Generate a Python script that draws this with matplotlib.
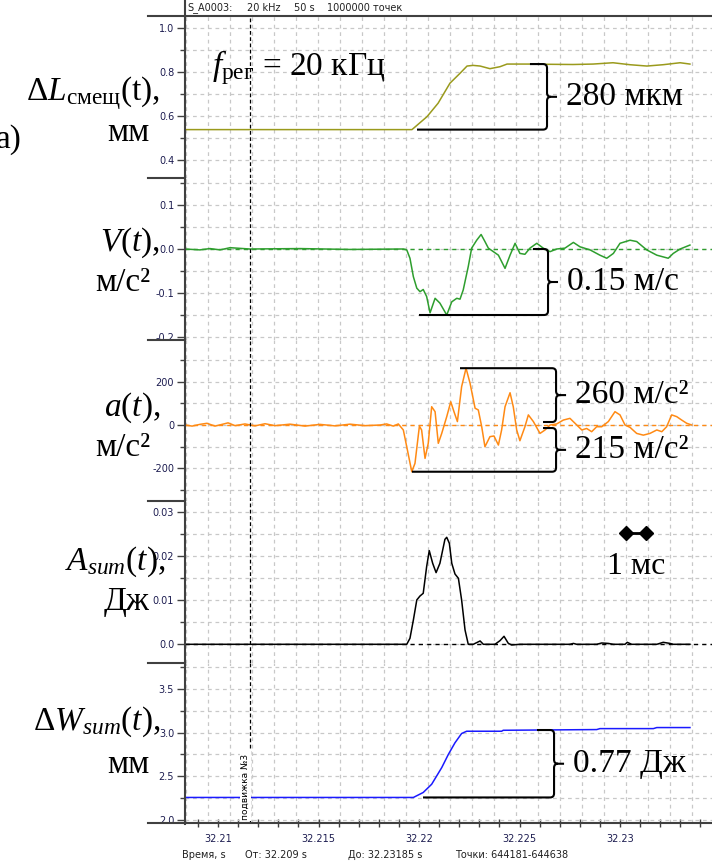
import numpy as np
import matplotlib
matplotlib.use('Agg')
from matplotlib import pyplot as plt
from matplotlib.lines import Line2D
from matplotlib.path import Path
from matplotlib.patches import PathPatch
import matplotlib.transforms as mtransforms

plt.rcParams['font.family'] = 'DejaVu Sans'
plt.rcParams['mathtext.fontset'] = 'custom'
plt.rcParams['mathtext.rm'] = 'Liberation Serif'
plt.rcParams['mathtext.it'] = 'Liberation Serif:italic'

T0 = 32.21  # s; all times below are ms after T0

# displacement dL, mm
dl_ms = [-1.64, 9.65, 10.40, 10.95, 11.54, 12.04, 12.39, 12.69, 13.04, 13.53, 14.03, 14.38,
         15.02, 15.67, 16.37, 17.66, 18.66, 19.65, 20.50, 21.34, 22.14, 22.99, 23.48]
dl_val = [0.538, 0.538, 0.597, 0.658, 0.749, 0.794, 0.827, 0.830, 0.827, 0.815, 0.824, 0.836,
          0.836, 0.836, 0.835, 0.834, 0.836, 0.842, 0.833, 0.827, 0.833, 0.842, 0.836]

# velocity V, m/s
v_ms = [-1.64, -0.90, -0.40, 0.10, 0.60, 1.59, 4.08, 6.57, 9.05, 9.22, 9.39, 9.55, 9.72, 9.89,
        10.05, 10.21, 10.38, 10.55, 10.80, 11.04, 11.38, 11.63, 11.88, 12.04, 12.20, 12.45,
        12.62, 12.87, 13.09, 13.28, 13.45, 13.70, 13.95, 14.28, 14.53, 14.78, 15.02, 15.27,
        15.52, 15.86, 16.18, 16.52, 16.85, 17.26, 17.68, 18.01, 18.51, 19.00, 19.34, 19.67,
        20.00, 20.50, 20.83, 21.33, 21.83, 22.40, 22.65, 22.99, 23.48]
v_val = [0.0, -0.002, 0.001, -0.002, 0.003, 0.0, 0.001, -0.001, 0.0, 0.0, -0.002, -0.021, -0.063,
         -0.089, -0.097, -0.092, -0.108, -0.145, -0.112, -0.123, -0.150, -0.120, -0.112, -0.114,
         -0.093, -0.040, 0.002, 0.020, 0.033, 0.017, 0.002, -0.006, -0.014, -0.044, -0.014,
         0.013, -0.010, -0.012, 0.002, 0.013, 0.002, -0.006, 0.0, 0.002, 0.015, 0.005, -0.002,
         -0.014, -0.021, -0.010, 0.013, 0.020, 0.017, -0.002, -0.014, -0.021, -0.010, 0.0, 0.009]

# acceleration a, m/s^2
a_ms = [-1.64, -1.29, -0.90, -0.55, -0.15, 0.20, 0.50, 0.85, 1.34, 1.84, 2.34, 2.84, 3.58, 4.33,
        5.07, 5.82, 6.57, 7.31, 8.06, 8.39, 8.72, 8.97, 9.22, 9.39, 9.64, 9.80, 10.02, 10.13,
        10.30, 10.46, 10.63, 10.80, 10.96, 11.13, 11.38, 11.58, 11.74, 11.91, 12.12, 12.34,
        12.54, 12.79, 12.95, 13.12, 13.28, 13.53, 13.73, 13.95, 14.11, 14.28, 14.53, 14.69,
        14.86, 15.02, 15.27, 15.44, 15.69, 16.02, 16.27, 16.52, 16.85, 17.18, 17.51, 17.85,
        18.10, 18.34, 18.59, 18.84, 19.09, 19.42, 19.75, 20.00, 20.25, 20.50, 20.83, 21.16,
        21.49, 21.83, 22.08, 22.32, 22.57, 22.82, 23.07, 23.32, 23.57]
a_val = [0, -5, 3, 8, -5, 3, 10, -3, 5, -4, 6, -3, 4, -5, 3, -4, 4, -3, 0, 5, -5, 5, -23, -101,
         -217, -178, -5, -23, -155, -85, 85, 62, -85, -39, 39, 108, 62, 16, 178, 264, 194, 78,
         70, -8, -101, -54, -51, -93, -23, 85, 150, 85, -23, -73, -8, 47, 16, -39, -23, 0, 5,
         23, 31, 0, -23, -16, -31, -8, -8, 16, 62, 47, 0, -11, -39, -47, -39, -23, -31, -8, 47,
         39, 23, 8, 0]

# cumulative acoustic energy A_sum, J
as_ms = [-1.64, 9.39, 9.55, 9.72, 9.89, 10.05, 10.21, 10.38, 10.51, 10.68, 10.85, 11.04, 11.29,
         11.38, 11.51, 11.63, 11.79, 11.96, 12.12, 12.29, 12.45, 12.70, 12.87, 13.04, 13.20,
         13.78, 14.03, 14.23, 14.44, 14.61, 15.02, 17.51, 17.68, 17.85, 18.84, 19.09, 19.42,
         19.67, 20.25, 20.36, 20.58, 21.83, 22.15, 22.49, 22.65, 23.48]
as_val = [0, 0, 0.00136, 0.00553, 0.01008, 0.01098, 0.01159, 0.01765, 0.02129, 0.01841, 0.01629,
          0.01841, 0.02386, 0.02432, 0.02295, 0.01841, 0.01598, 0.0150, 0.01008, 0.00326, 0, 0,
          0.00038, 0.00076, 0, 0, 0.00083, 0.00182, 0.00023, -0.00015, 0, 0, 0.0002, 0, 0,
          0.0003, 0.0002, 0, 0, 0.00045, 0, 0, 0.00045, 0.0002, 0, 0]

# energy dW_sum
w_ms = [-1.64, 9.72, 10.21, 10.63, 10.88, 11.13, 11.46, 11.79, 12.12, 12.37, 14.11, 14.19,
        18.84, 19.00, 21.66, 21.83, 23.48]
w_val = [2.258, 2.258, 2.315, 2.409, 2.504, 2.599, 2.750, 2.883, 2.989, 3.015, 3.015, 3.026,
         3.034, 3.045, 3.045, 3.057, 3.057]

dl_ticks, dl_labels, dl_minor = [0.4, 0.6, 0.8, 1.0], ['0.4', '0.6', '0.8', '1.0'], [0.5, 0.7, 0.9]
v_ticks, v_labels, v_minor = [-0.2, -0.1, 0.0, 0.1], ['-0.2', '-0.1', '0.0', '0.1'], [-0.15, -0.05, 0.05, 0.15]
a_ticks, a_labels, a_minor = [-200, 0, 200], ['-200', '0', '200'], [-300, -100, 100, 300]
as_ticks, as_labels, as_minor = [0.0, 0.01, 0.02, 0.03], ['0.0', '0.01', '0.02', '0.03'], [0.005, 0.015, 0.025]
w_ticks, w_labels, w_minor = [2.0, 2.5, 3.0, 3.5], ['2.0', '2.5', '3.0', '3.5'], [2.25, 2.75, 3.25, 3.75]
x_ticks = [32.21, 32.215, 32.22, 32.225, 32.23]
x_labels = ['32.21', '32.215', '32.22', '32.225', '32.23']

mark_ms = 1.59          # "подвижка №3"

W, H = 712, 861
fig = plt.figure(figsize=(W / 100, H / 100), dpi=100)


def fx(px):
    return px / W


def fy(py):
    return 1 - py / H


def sec(ms):
    return T0 + np.asarray(ms, dtype=float) / 1000.0


xlim = (sec(-1.642), sec(24.577))
bounds = [(16, 178), (178, 340), (340, 501), (501, 663), (663, 823)]
series = [
    (dl_ms, dl_val, '#9a9a1c', (0.318, 1.0545), dl_ticks, dl_labels, dl_minor, False),
    (v_ms, v_val, '#2e9e2e', (-0.2068, 0.1614), v_ticks, v_labels, v_minor, True),
    (a_ms, a_val, '#ff8a14', (-353, 395), a_ticks, a_labels, a_minor, True),
    (as_ms, as_val, '#000000', (-0.00425, 0.03257), as_ticks, as_labels, as_minor, True),
    (w_ms, w_val, '#1a1aff', (1.966, 3.795), w_ticks, w_labels, w_minor, False),
]
grid_step = 1.095  # ms, screen grid division

axes = []
for (top, bot), (tms, vals, col, ylim, maj, lab, mnr, zero) in zip(bounds, series):
    ax = fig.add_axes([fx(185), fy(bot), fx(W - 185), (bot - top) / H])
    ax.set_xlim(*xlim)
    ax.set_ylim(*ylim)
    for s in ax.spines.values():
        s.set_visible(False)
    ax.set_yticks(maj)
    ax.set_yticklabels(lab)
    ax.set_yticks(mnr, minor=True)
    ax.tick_params(axis='y', which='major', direction='out', length=5.8, width=1,
                   color='#404040', labelsize=7, labelcolor='#1c1c50', pad=2)
    ax.tick_params(axis='y', which='minor', direction='out', length=3.6, width=1, color='#404040')
    ax.grid(True, axis='y', which='both', color='#c8c8c8', linestyle=(0, (3, 3)), lw=0.9)
    for g in np.arange(-1.592, 24.6, grid_step):
        ax.axvline(sec(g), color='#c8c8c8', linestyle=(0, (3, 3)), lw=0.9, zorder=0)
    ax.set_xticks([])
    if zero:
        ax.axhline(0, color=col, linestyle=(0, (3, 3)), lw=1)
    ax.plot(sec(tms), vals, color=col, lw=1.1)
    ax.axvline(sec(mark_ms), color='black', linestyle=(0, (3, 2)), lw=0.9)
    ax.set_facecolor('none')
    axes.append(ax)

ax1, ax2, ax3, ax4, ax5 = axes
ax5.set_xticks(x_ticks)
ax5.set_xticklabels(x_labels)
ax5.set_xticks(sec(np.arange(-1, 25, 1.0)), minor=True)
ax5.tick_params(axis='x', which='both', direction='inout', length=5.8, width=1, color='#404040',
                labelsize=7, labelcolor='#1c1c50', pad=5)

# frame lines
fig.add_artist(Line2D([fx(185), fx(185)], [fy(824), 1], color='#404040', lw=1.5))
fig.add_artist(Line2D([fx(148), 1], [fy(16), fy(16)], color='#404040', lw=1.5))
fig.add_artist(Line2D([fx(148), 1], [fy(823), fy(823)], color='#404040', lw=1.5))
for py in [178, 340, 501, 663]:
    fig.add_artist(Line2D([fx(148), fx(185)], [fy(py), fy(py)], color='#404040', lw=1.5))


def brace(ax, xb, lo, hi, x_lo, x_hi, label):
    x0, x1 = ax.get_xlim()
    y0, y1 = ax.get_ylim()
    pos = ax.get_position()
    sx = (x1 - x0) / (pos.width * W)
    sy = (y1 - y0) / (pos.height * H)
    r, tip = 4, 14
    mid = (lo + hi) / 2
    verts = [(x_lo, lo), (xb, lo), (xb + r * sx, lo), (xb + r * sx, lo + r * sy),
             (xb + r * sx, mid - r * sy), (xb + r * sx, mid), (xb + 2 * r * sx, mid),
             (xb + tip * sx, mid),
             (x_hi, hi), (xb, hi), (xb + r * sx, hi), (xb + r * sx, hi - r * sy),
             (xb + r * sx, mid + r * sy), (xb + r * sx, mid), (xb + 2 * r * sx, mid)]
    codes = [Path.MOVETO, Path.LINETO, Path.CURVE3, Path.CURVE3, Path.LINETO, Path.CURVE3,
             Path.CURVE3, Path.LINETO,
             Path.MOVETO, Path.LINETO, Path.CURVE3, Path.CURVE3, Path.LINETO, Path.CURVE3,
             Path.CURVE3]
    ax.add_patch(PathPatch(Path(verts, codes), fill=False, edgecolor='black', lw=1.5,
                           clip_on=False, zorder=5))
    ax.annotate(label, xy=(xb + tip * sx, mid), xytext=(9, 0), textcoords='offset pixels',
                va='center', ha='left', fontsize=24, family='Liberation Serif')


brace(ax1, sec(16.17), min(dl_val), np.interp(15.52, dl_ms, dl_val), sec(9.90), sec(15.52), '280 мкм')
brace(ax2, sec(16.22), min(v_val), 0.0, sec(10.00), sec(15.67), '0.15 м/с')
brace(ax3, sec(16.62), 14, max(a_val), sec(16.17), sec(12.04), '260 м/с²')
brace(ax3, sec(16.62), min(a_val), -14, sec(9.65), sec(16.17), '215 м/с²')
brace(ax5, sec(16.52), min(w_val), np.interp(15.87, w_ms, w_val), sec(10.20), sec(15.87), '0.77 Дж')

# 1 ms scale bar
ax4.plot(sec([20.30, 21.30]), [0.0253, 0.0253], color='black', lw=2, marker='D', ms=7)
ax4.text(sec(20.80), 0.0176, '1 мс', ha='center', va='center', fontsize=23,
         family='Liberation Serif')

# event marker label
trans = mtransforms.blended_transform_factory(ax5.transData, ax5.transAxes)
ax5.text(sec(mark_ms), 0.02, 'подвижка №3 ', rotation=90, ha='right', va='bottom',
         fontsize=6.5, transform=trans,
         bbox=dict(facecolor='white', edgecolor='none', pad=0.5))

# sampling rate
fig.text(fx(212), fy(68), r'$\mathit{f}_{\mathrm{рег}}$ = 20 кГц', ha='left', va='center',
         fontsize=24, family='Liberation Serif')

# axis names
big = dict(ha='right', va='center', fontsize=24, family='Liberation Serif')
fig.text(fx(160), fy(93), r'$\mathit{ΔL}_{\mathrm{смещ}}$(t),', **big)
fig.text(fx(150), fy(133), 'мм', **big)
fig.text(fx(160), fy(243), r'$\mathit{V(t)}$,', **big)
fig.text(fx(150), fy(283), 'м/с²', **big)
fig.text(fx(160), fy(408), r'$\mathit{a(t)}$,', **big)
fig.text(fx(150), fy(448), 'м/с²', **big)
fig.text(fx(165), fy(562), r'$\mathit{A}_{\mathit{sum}}\mathit{(t)}$,', **big)
fig.text(fx(150), fy(602), 'Дж', **big)
fig.text(fx(160), fy(722), r'$\mathit{ΔW}_{\mathit{sum}}\mathit{(t)}$,', **big)
fig.text(fx(150), fy(765), 'мм', **big)
fig.text(fx(-4), fy(140), 'а)', ha='left', va='center', fontsize=24, family='Liberation Serif')

# header / footer
small = dict(ha='left', va='center', fontsize=7, color='#202020')
fig.text(fx(187), fy(8), 'S_A0003:', **small)
fig.text(fx(247), fy(8), '20 kHz', **small)
fig.text(fx(294), fy(8), '50 s', **small)
fig.text(fx(327), fy(8), '1000000 точек', **small)
fig.text(fx(182), fy(855), 'Время, s', **small)
fig.text(fx(245), fy(855), 'От: 32.209 s', **small)
fig.text(fx(348), fy(855), 'До: 32.23185 s', **small)
fig.text(fx(455), fy(855), 'Точки: 644181-644638', **small)

fig.savefig('out.png', dpi=100, facecolor='white')
